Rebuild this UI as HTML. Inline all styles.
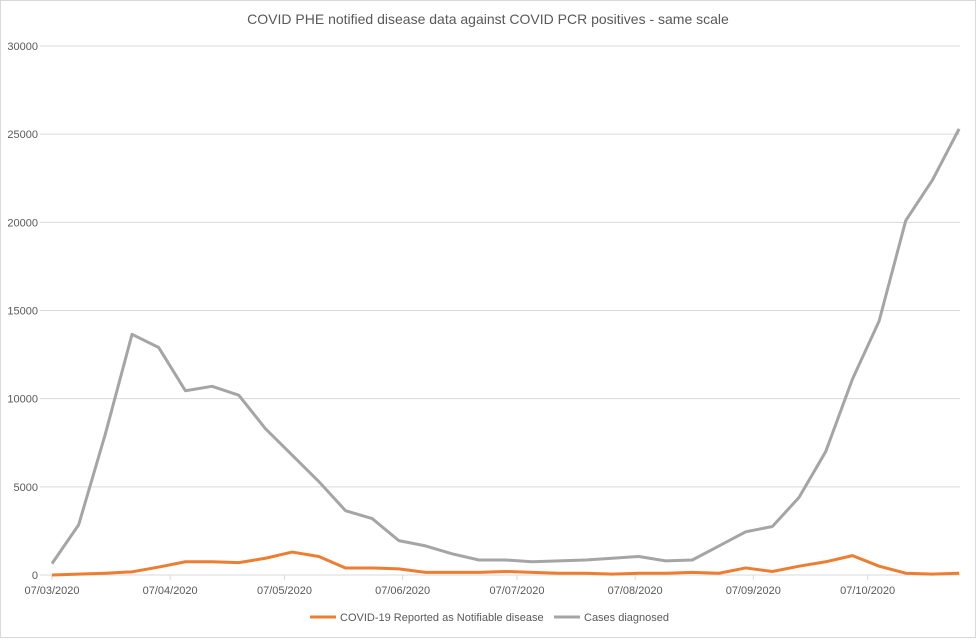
<!DOCTYPE html>
<html><head><meta charset="utf-8"><style>
body{margin:0;background:#fff;font-family:"Liberation Sans",sans-serif}
svg text{font-family:"Liberation Sans",sans-serif}
</style></head><body>
<svg id="chart" width="976" height="638" viewBox="0 0 976 638" xmlns="http://www.w3.org/2000/svg">
<rect x="0.5" y="0.5" width="975" height="637" fill="#fff" stroke="#d9d9d9"/>
<text x="488" y="24" text-anchor="middle" font-size="14" fill="#595959">COVID PHE notified disease data against COVID PCR positives - same scale</text>
<g id="grid"></g><g id="yaxis"></g><g id="xaxis"></g><g id="series"></g>
<g>
<line x1="310" y1="617" x2="336" y2="617" stroke="#ed7d31" stroke-width="3"/>
<text x="340" y="621" font-size="11" fill="#595959">COVID-19 Reported as Notifiable disease</text>
<line x1="554" y1="617" x2="580" y2="617" stroke="#a5a5a5" stroke-width="3"/>
<text x="584" y="621" font-size="11" fill="#595959">Cases diagnosed</text>
</g>
</svg>
<script>
const yTicks=[0,5000,10000,15000,20000,25000,30000];
const xTickLabels=["07/03/2020","07/04/2020","07/05/2020","07/06/2020","07/07/2020","07/08/2020","07/09/2020","07/10/2020"];
const xTickDays=[0,31,61,92,122,153,184,214];
const notifiable=[0,50,100,180,450,750,750,700,950,1300,1050,400,400,350,150,150,150,200,150,100,100,50,100,100,150,100,400,200,500,750,1100,500,100,50,100];
const cases=[645,2850,8000,13650,12900,10450,10700,10200,8300,6800,5300,3650,3200,1950,1650,1200,850,850,750,800,850,950,1050,800,850,1650,2450,2750,4400,7000,11100,14400,20100,22400,25300];
const ns="http://www.w3.org/2000/svg";
const X0=52,PXDAY=26.68/7,Y0=575,Y1=46,YMAX=30000;
const xd=d=>X0+d*PXDAY;
const xi=i=>xd(i*7);
const y=v=>Y0-(v/YMAX)*(Y0-Y1);
function mk(t,a,p){const e=document.createElementNS(ns,t);for(const k in a)e.setAttribute(k,a[k]);p.appendChild(e);return e;}
const grid=document.getElementById('grid'),ya=document.getElementById('yaxis'),xa=document.getElementById('xaxis'),se=document.getElementById('series');
yTicks.forEach(v=>{
 if(v>0){const l=mk('line',{x1:40,x2:960,y1:y(v),y2:y(v),stroke:'#d9d9d9','stroke-width':1},grid);
 
 }
 const t=mk('text',{x:38,y:y(v)+4,'text-anchor':'end','font-size':'11',fill:'#595959'},ya);t.textContent=v;
 
 
});
const ax=mk('line',{x1:40,x2:960,y1:Y0,y2:Y0,stroke:'#d9d9d9'},xa);


xTickLabels.forEach((s,i)=>{
 const x=xd(xTickDays[i]);
 const tk=mk('line',{x1:x,x2:x,y1:Y0,y2:Y0+5,stroke:'#d9d9d9'},xa);
 
 
 const t=mk('text',{x:x,y:Y0+19,'text-anchor':'middle','font-size':'11',fill:'#595959'},xa);t.textContent=s;
 
 
});
function line(data,color,name){
 const p=mk('polyline',{points:data.map((v,i)=>xi(i)+','+y(v)).join(' '),fill:'none',stroke:color,'stroke-width':3,'stroke-linejoin':'round'},se);
 
 
}
line(cases,'#a5a5a5','cases-diagnosed-line');
line(notifiable,'#ed7d31','notifiable-disease-line');
</script>
</body></html>
